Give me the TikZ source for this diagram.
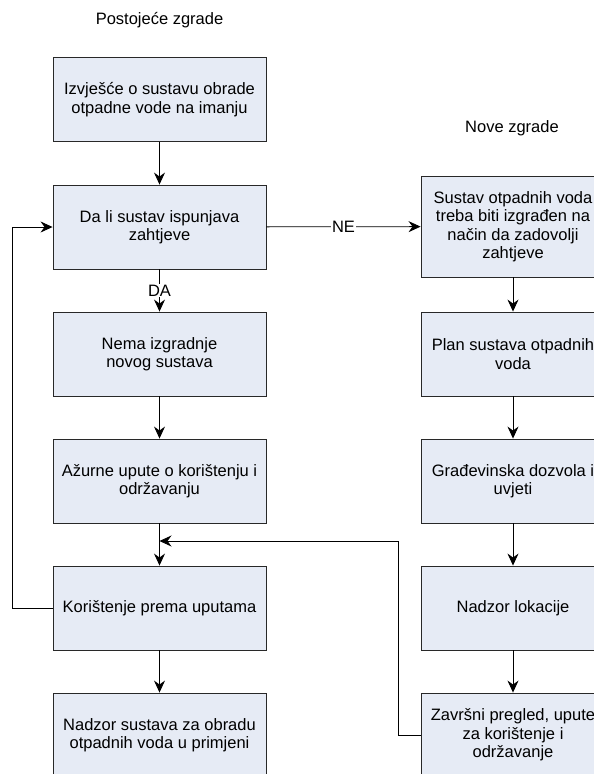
\documentclass[tikz,border=0pt]{standalone}
\usepackage{fontspec}
\setmainfont{Liberation Sans}
\usetikzlibrary{arrows.meta}
\definecolor{boxfill}{RGB}{230,235,245}
\definecolor{boxline}{RGB}{40,40,40}
\begin{document}
\begin{tikzpicture}[x=1pt,y=-1pt,
  every node/.style={font=\fontsize{16.5}{18.5}\selectfont},
  lbox/.style={draw=boxline, line width=0.9pt, fill=boxfill, rectangle, minimum width=213pt, minimum height=84pt, align=center, inner sep=0pt},
  rbox/.style={draw=boxline, line width=0.9pt, fill=boxfill, rectangle, minimum width=184pt, minimum height=84pt, align=center, inner sep=0pt},
  conn/.style={draw=black, line width=0.8pt, -{Stealth[length=12pt,width=11pt,inset=4pt]}},
  edgelabel/.style={fill=white, inner sep=1pt}
]
\useasboundingbox (0,0) rectangle (594,774);
\clip (0,0) rectangle (594,774);
\fill[white] (0,0) rectangle (594,774);

\node (t1) at (159.5,20) {Postojeće zgrade};
\node (t2) at (512,128) {Nove zgrade};

\node[lbox] (b1) at (159.5,99.5) {Izvješće o sustavu obrade\\otpadne vode na imanju};
\node[lbox] (b2) at (159.5,227) {Da li sustav ispunjava\\zahtjeve};
\node[lbox] (b3) at (159.5,354) {Nema izgradnje\\novog sustava};
\node[lbox] (b4) at (159.5,481) {Ažurne upute o korištenju i\\održavanju};
\node[lbox] (b5) at (159.5,608) {Korištenje prema uputama};
\node[lbox] (b6) at (159.5,735) {Nadzor sustava za obradu\\otpadnih voda u primjeni};

\node[rbox, minimum height=101pt] (r1) at (513,226.5) {Sustav otpadnih voda\\treba biti izgrađen na\\način da zadovolji\\zahtjeve};
\node[rbox] (r2) at (513,354) {Plan sustava otpadnih\\voda};
\node[rbox] (r3) at (513,481) {Građevinska dozvola i\\uvjeti};
\node[rbox] (r4) at (513,608) {Nadzor lokacije};
\node[rbox] (r5) at (513,735) {Završni pregled, upute\\za korištenje i\\održavanje};

\coordinate (m) at (159.5,541);
\coordinate (fb1) at (398,735);
\coordinate (fb2) at (398,541);
\coordinate (lp1) at (12,608);
\coordinate (lp2) at (12,227);

\draw[conn] (b1) -- (b2);
\draw[conn] (b2) -- node[edgelabel] {DA} (b3);
\draw[conn] (b2) -- node[edgelabel] {NE} (r1);
\draw[conn] (b3) -- (b4);
\draw[conn] (b4) -- (b5);
\draw[conn] (b5) -- (b6);
\draw[conn] (b5.west) -- (lp1) -- (lp2) -- (b2.west);

\draw[conn] (r1) -- (r2);
\draw[conn] (r2) -- (r3);
\draw[conn] (r3) -- (r4);
\draw[conn] (r4) -- (r5);
\draw[conn] (r5.west) -- (fb1) -- (fb2) -- (m);
\end{tikzpicture}
\end{document}
